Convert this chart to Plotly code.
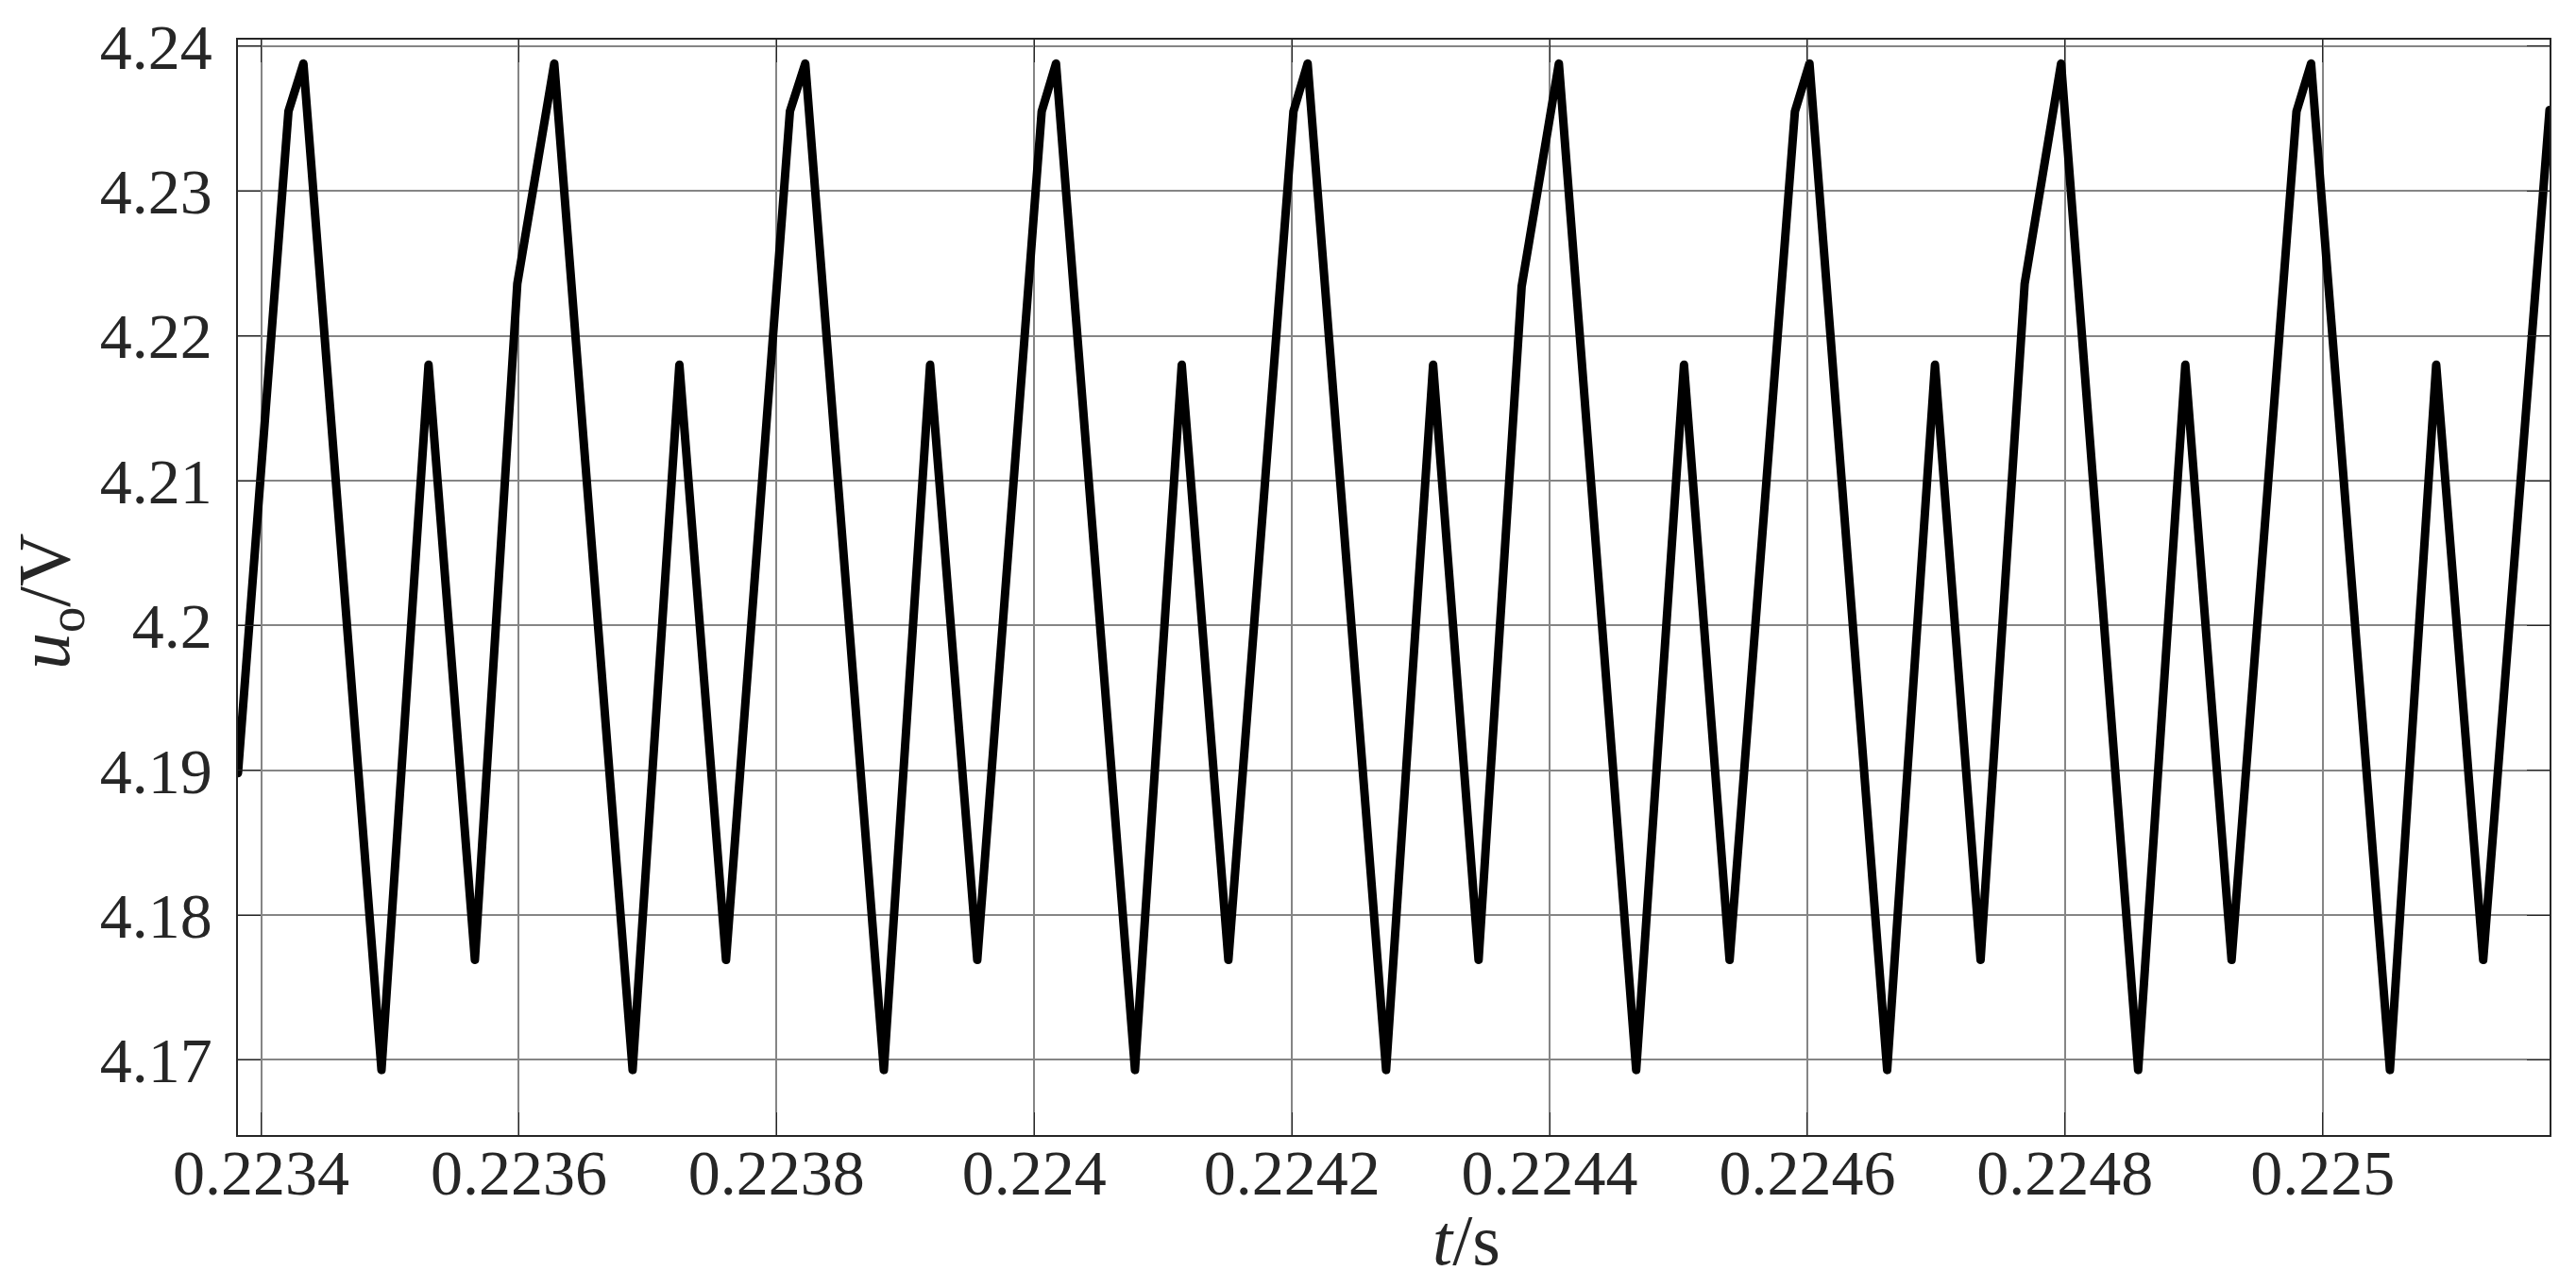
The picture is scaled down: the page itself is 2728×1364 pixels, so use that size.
"""
plot.py — output voltage ripple u_o(t), steady state
"""
import plotly.graph_objects as go

# vertices of the simulated waveform (time in s, voltage in V)
t_s = [
    0.2233820, 0.2234212, 0.2234328, 0.2234934, 0.2235299, 0.2235659,
    0.2235988, 0.2236275, 0.2236883, 0.2237246, 0.2237608,
    0.2238104, 0.2238223, 0.2238833, 0.2239192, 0.2239558,
    0.2240058, 0.2240169, 0.2240782, 0.2241145, 0.2241507,
    0.2242012, 0.2242122, 0.2242731, 0.2243096, 0.2243449,
    0.2243783, 0.2244072, 0.2244672, 0.2245043, 0.2245397,
    0.2245904, 0.2246017, 0.2246620, 0.2246991, 0.2247345,
    0.2247687, 0.2247970, 0.2248568, 0.2248934, 0.2249293,
    0.2249797, 0.2249910, 0.2250522, 0.2250881, 0.2251246,
    0.2251761,
]
u_o = [
    4.1898, 4.2355, 4.2388, 4.1693, 4.2180, 4.1769,
    4.2236, 4.2388, 4.1693, 4.2180, 4.1769,
    4.2355, 4.2388, 4.1693, 4.2180, 4.1769,
    4.2355, 4.2388, 4.1693, 4.2180, 4.1769,
    4.2355, 4.2388, 4.1693, 4.2180, 4.1769,
    4.2234, 4.2388, 4.1693, 4.2180, 4.1769,
    4.2355, 4.2388, 4.1693, 4.2180, 4.1769,
    4.2236, 4.2388, 4.1693, 4.2180, 4.1769,
    4.2355, 4.2388, 4.1693, 4.2180, 4.1769,
    4.2356,
]

x_ticks = [0.2234, 0.2236, 0.2238, 0.2240, 0.2242, 0.2244, 0.2246, 0.2248, 0.2250]
x_labels = ["0.2234", "0.2236", "0.2238", "0.224", "0.2242", "0.2244", "0.2246", "0.2248", "0.225"]
y_ticks = [4.17, 4.18, 4.19, 4.20, 4.21, 4.22, 4.23, 4.24]
y_labels = ["4.17", "4.18", "4.19", "4.2", "4.21", "4.22", "4.23", "4.24"]

FONT = "Liberation Serif, Times New Roman, serif"
INK = "#262626"

fig = go.Figure(go.Scatter(
    x=t_s, y=u_o, mode="lines",
    line=dict(color="#000000", width=9),
    hoverinfo="x+y", showlegend=False,
))

axis_common = dict(
    ticks="inside", ticklen=24, tickwidth=1.2, tickcolor=INK,
    showline=True, linecolor=INK, linewidth=1.5, mirror="ticks",
    showgrid=True, gridcolor="#858585", gridwidth=2,
    zeroline=False,
    tickfont=dict(family=FONT, size=68, color=INK),
)

fig.update_layout(
    width=2728, height=1364,
    margin=dict(l=252, r=28, t=33, b=162),
    paper_bgcolor="white", plot_bgcolor="white",
    xaxis=dict(range=[0.223382, 0.2251761], tickvals=x_ticks, ticktext=x_labels,
               ticklabelstandoff=-20, **axis_common),
    yaxis=dict(range=[4.164809, 4.240453], tickvals=y_ticks, ticktext=y_labels,
               ticklabelstandoff=12, **axis_common),
)

# axis titles placed like the original (MATLAB style labels)
fig.add_annotation(text="<i>t</i>/s", xref="paper", yref="paper",
                   x=0.5315, y=0, yshift=-111, xanchor="center", yanchor="middle",
                   showarrow=False, font=dict(family=FONT, size=76, color=INK))
fig.add_annotation(text="<i>u</i><sub>o</sub>/V", xref="paper", yref="paper",
                   x=0, xshift=-200, y=0.487, xanchor="center", yanchor="middle",
                   textangle=-90,
                   showarrow=False, font=dict(family=FONT, size=78, color=INK))

fig.write_html("out.html",
               config={"displayModeBar": False},
               post_script="document.body.style.margin='0';"
                           "document.querySelectorAll('.js-line').forEach(function(p){"
                           "p.style.strokeLinejoin='round';p.style.strokeLinecap='round';});")
